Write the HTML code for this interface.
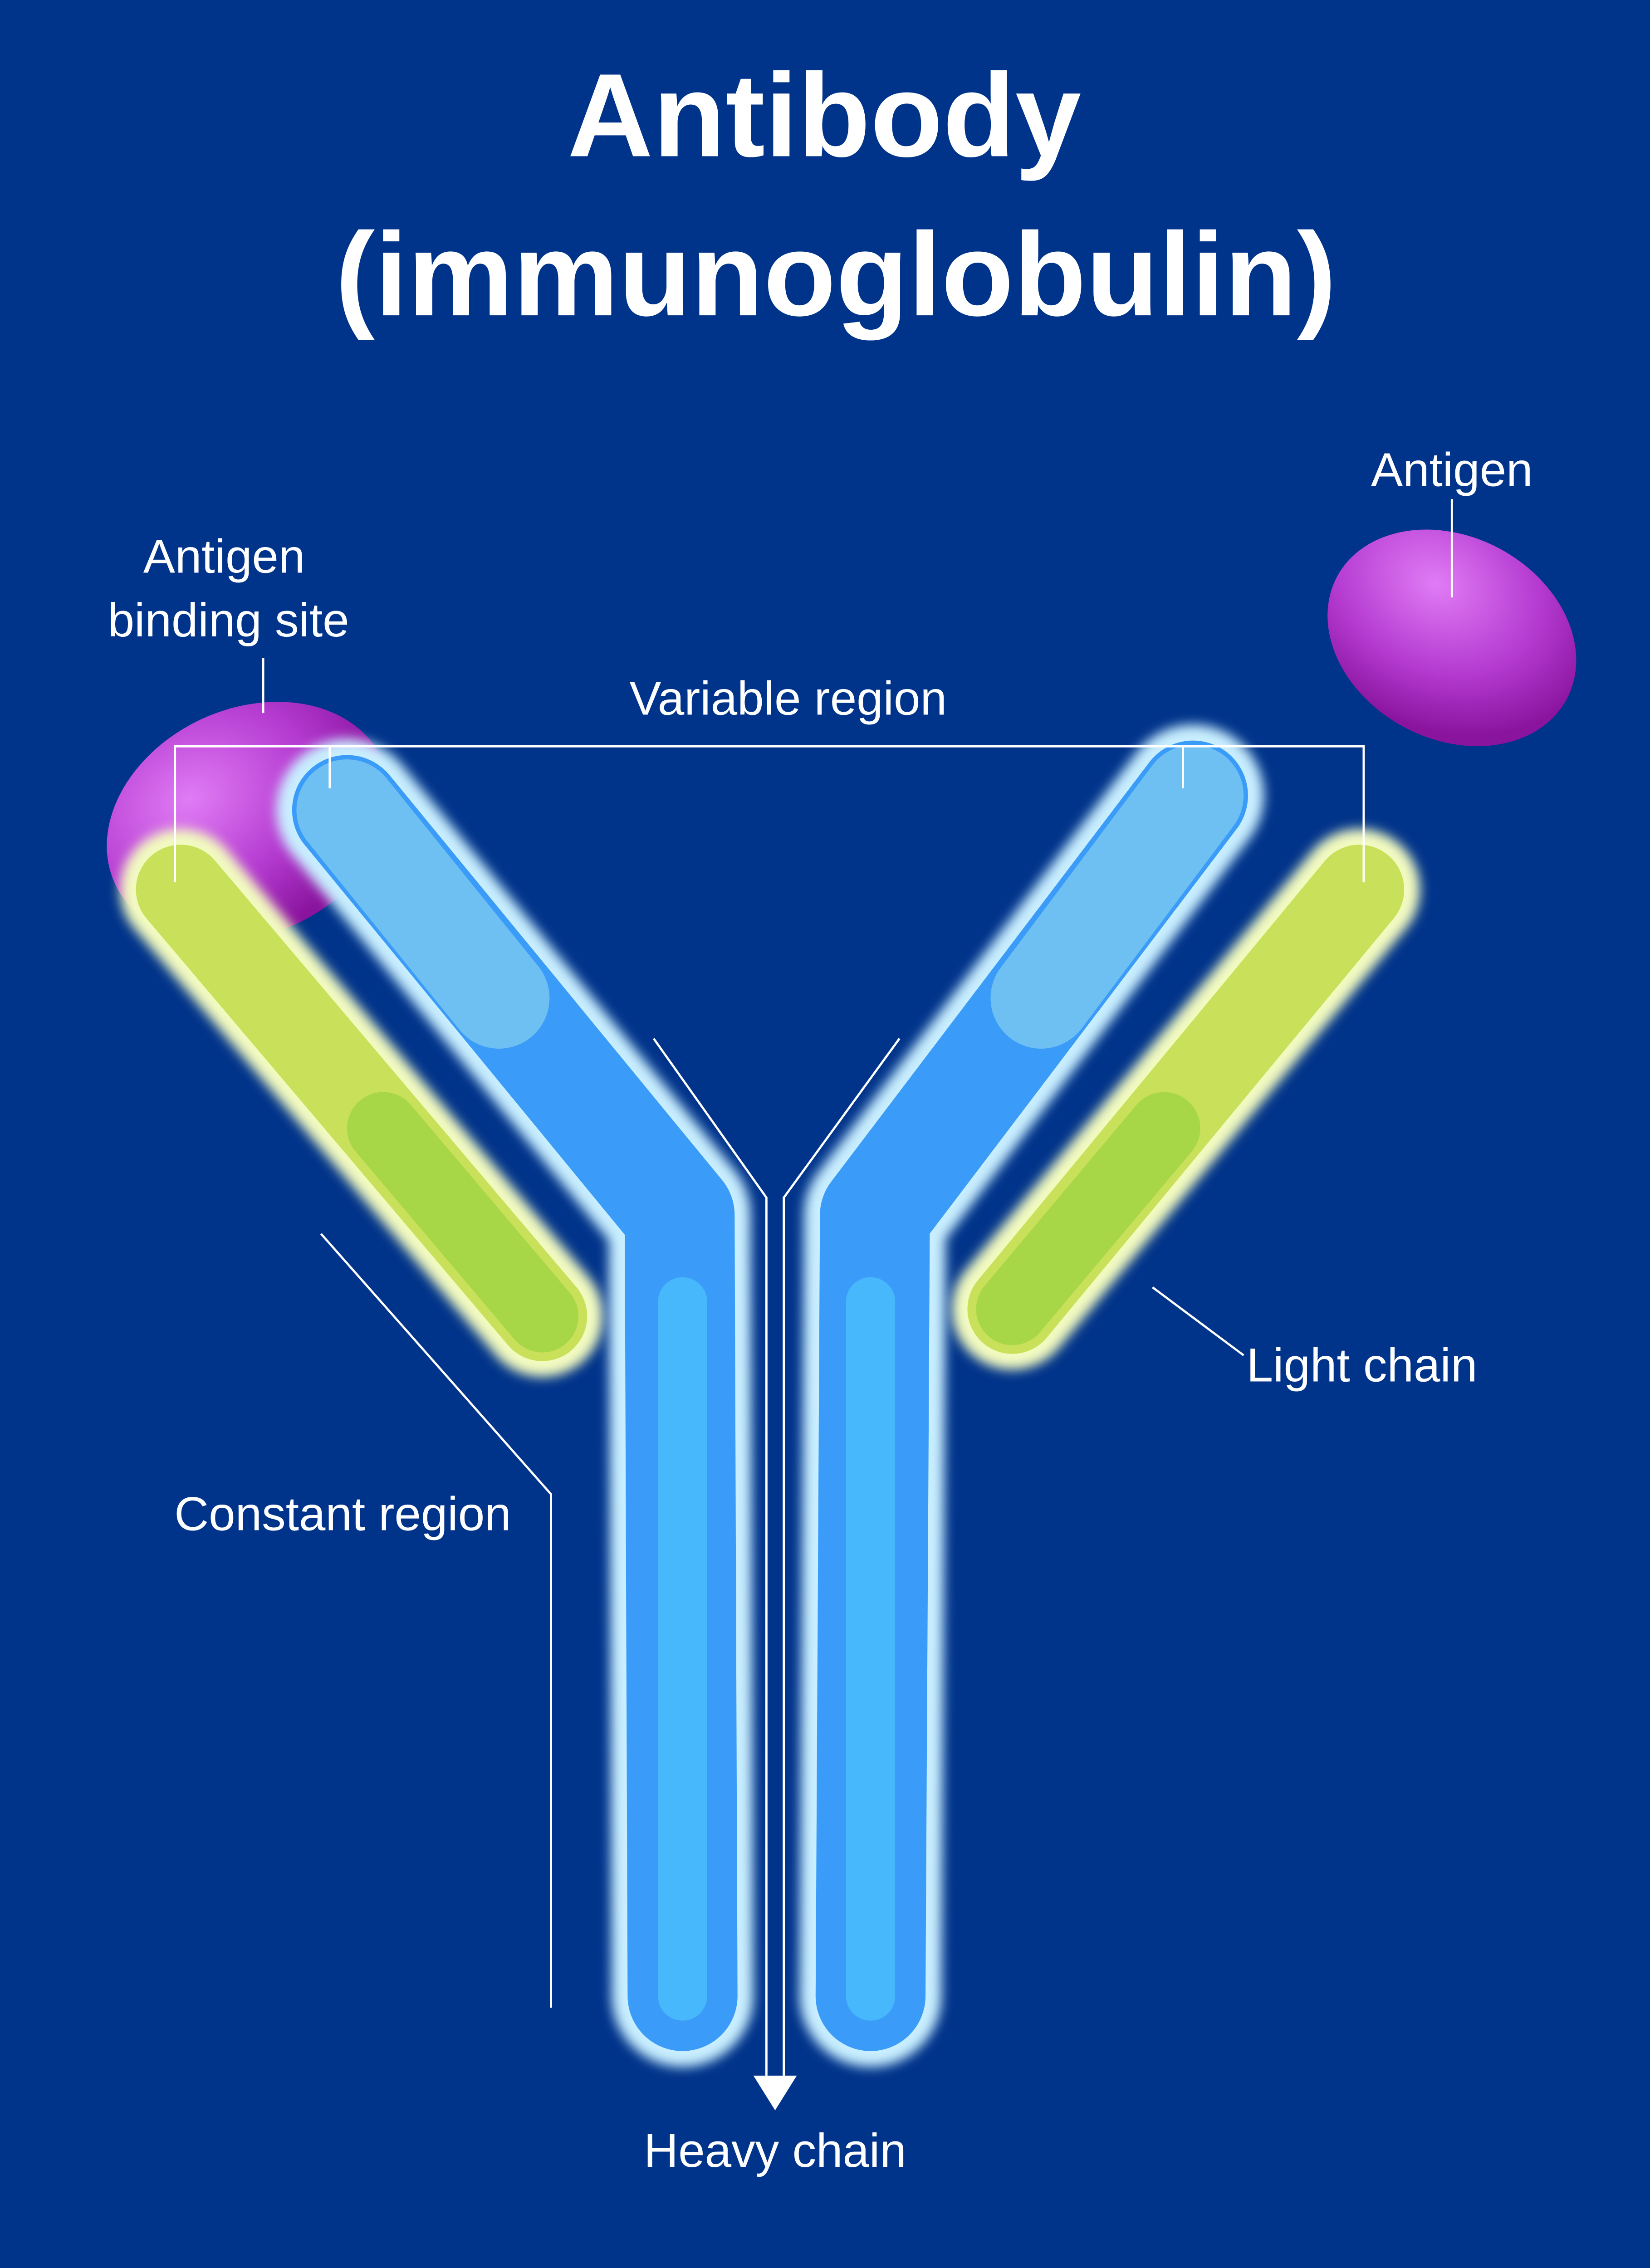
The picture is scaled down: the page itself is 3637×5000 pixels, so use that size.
<!DOCTYPE html>
<html><head><meta charset="utf-8"><style>
html,body{margin:0;padding:0;background:#00338a;}
svg{display:block;width:3637px;height:5000px;}
text{font-family:"Liberation Sans",sans-serif;fill:#fff;}
</style></head><body>
<svg viewBox="0 0 1141 1568" preserveAspectRatio="none" xmlns="http://www.w3.org/2000/svg">
<defs>
<radialGradient id="ag" cx="35%" cy="30%" r="70%"><stop offset="0" stop-color="#e07cf5"/><stop offset="0.6" stop-color="#b43ad0"/><stop offset="1" stop-color="#8a149e"/></radialGradient>
<filter id="gl" filterUnits="userSpaceOnUse" x="0" y="0" width="1141" height="1568"><feGaussianBlur stdDeviation="4"/></filter>
</defs>
<rect width="1141" height="1568" fill="#00338a"/>
<text x="570" y="108" font-size="82" font-weight="bold" text-anchor="middle">Antibody</text>
<text x="578" y="218" font-size="82" font-weight="bold" text-anchor="middle">(immunoglobulin)</text>

<ellipse cx="1004" cy="441" rx="90" ry="70" transform="rotate(28 1004 441)" fill="url(#ag)"/>
<ellipse cx="172" cy="568" rx="102" ry="78" transform="rotate(-25 172 568)" fill="url(#ag)"/>

<!-- light chains -->
<g filter="url(#gl)">
<line x1="125" y1="615" x2="375" y2="910" stroke="#f2fac0" stroke-width="84" stroke-linecap="round"/>
<line x1="940" y1="615" x2="700" y2="905" stroke="#f2fac0" stroke-width="84" stroke-linecap="round"/>
</g>
<line x1="125" y1="615" x2="375" y2="910" stroke="#c8e05a" stroke-width="62" stroke-linecap="round"/>
<line x1="940" y1="615" x2="700" y2="905" stroke="#c8e05a" stroke-width="62" stroke-linecap="round"/>
<line x1="265" y1="780" x2="375" y2="910" stroke="#9ad440" stroke-width="50" stroke-linecap="round" opacity="0.7"/>
<line x1="805" y1="780" x2="700" y2="905" stroke="#9ad440" stroke-width="50" stroke-linecap="round" opacity="0.7"/>

<!-- heavy chains -->
<g filter="url(#gl)">
<polyline points="240,560 470,840 472,1380" fill="none" stroke="#c8eeff" stroke-width="98" stroke-linecap="round" stroke-linejoin="round"/>
<polyline points="825,550 605,840 602,1380" fill="none" stroke="#c8eeff" stroke-width="98" stroke-linecap="round" stroke-linejoin="round"/>
</g>
<polyline points="240,560 470,840 472,1380" fill="none" stroke="#3a9cf8" stroke-width="76" stroke-linecap="round" stroke-linejoin="round"/>
<polyline points="825,550 605,840 602,1380" fill="none" stroke="#3a9cf8" stroke-width="76" stroke-linecap="round" stroke-linejoin="round"/>
<line x1="240" y1="560" x2="345" y2="690" stroke="#78c6f2" stroke-width="70" stroke-linecap="round" opacity="0.85"/>
<line x1="825" y1="550" x2="720" y2="690" stroke="#78c6f2" stroke-width="70" stroke-linecap="round" opacity="0.85"/>
<line x1="472" y1="900" x2="472" y2="1380" stroke="#52ccff" stroke-width="34" stroke-linecap="round" opacity="0.6"/>
<line x1="602" y1="900" x2="602" y2="1380" stroke="#52ccff" stroke-width="34" stroke-linecap="round" opacity="0.6"/>

<!-- lines -->
<g stroke="#fff" stroke-width="1.5" fill="none">
<polyline points="121,610 121,516 943,516 943,610"/>
<line x1="228" y1="516" x2="228" y2="545"/>
<line x1="818" y1="516" x2="818" y2="545"/>
<line x1="1004" y1="345" x2="1004" y2="413"/>
<line x1="182" y1="455" x2="182" y2="493"/>
<polyline points="452,718 530,828 530,1435"/>
<polyline points="622,718 542,828 542,1435"/>
<polyline points="222,853 381,1033 381,1388"/>
<line x1="797" y1="890" x2="860" y2="937"/>
</g>
<polygon points="521,1435 551,1435 536,1459" fill="#fff"/>

<g font-size="33">
<text x="1004" y="336" text-anchor="middle">Antigen</text>
<text x="155" y="396" text-anchor="middle">Antigen</text>
<text x="158" y="440" text-anchor="middle">binding site</text>
<text x="545" y="494" text-anchor="middle">Variable region</text>
<text x="862" y="955">Light chain</text>
<text x="237" y="1058" text-anchor="middle">Constant region</text>
<text x="536" y="1498" text-anchor="middle">Heavy chain</text>
</g>
</svg>
</body></html>
